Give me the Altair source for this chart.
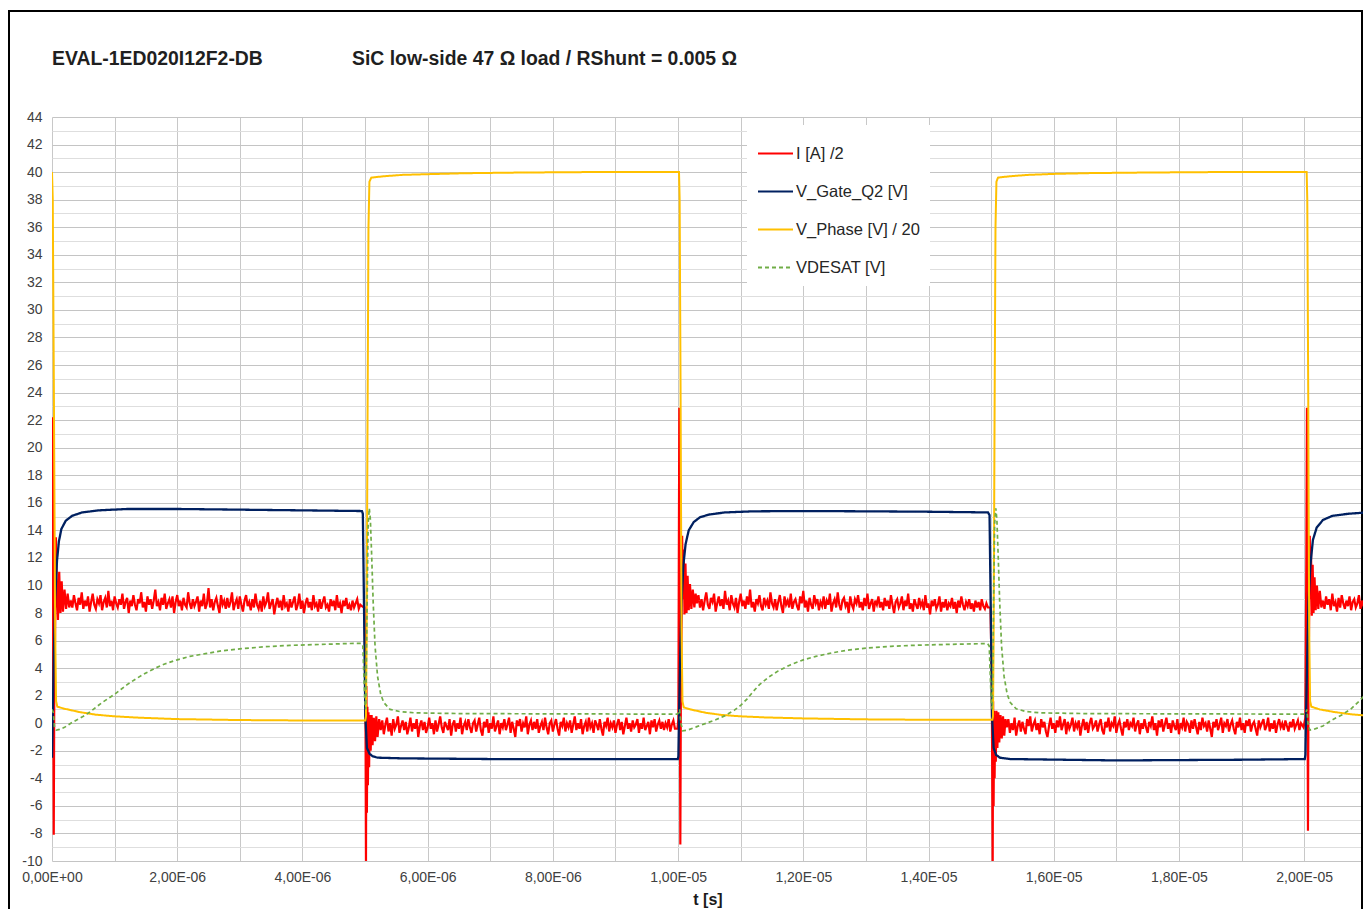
import json
import altair as alt
import pandas as pd

FONT = "Liberation Sans"

SERIES = ["I [A] /2", "V_Gate_Q2 [V]", "V_Phase [V] / 20", "VDESAT [V]"]
COLORS = ["#ff0000", "#002060", "#ffc000", "#70ad47"]
DASHES = [[1, 0], [1, 0], [1, 0], [4, 3]]
WIDTHS = [2.2, 2.3, 2, 1.7]

TITLE_LEFT = "EVAL-1ED020I12F2-DB"
TITLE_RIGHT = "SiC low-side 47 \u03a9 load / RShunt = 0.005 \u03a9"
X_TITLE = "t [s]"
X_TICK_LABELS = ["0,00E+00", "2,00E-06", "4,00E-06", "6,00E-06", "8,00E-06", "1,00E-05",
                 "1,20E-05", "1,40E-05", "1,60E-05", "1,80E-05", "2,00E-05"]

# ---- time in microseconds ----
gate_t = [0.000, 0.010, 0.030, 0.050, 0.080, 0.110, 0.150, 0.220, 0.320, 0.480, 0.750, 1.200,
          2.000, 3.000, 4.000, 4.950, 4.965, 4.985, 5.005, 5.030, 5.070, 5.120, 5.200, 5.600,
          7.000, 9.000, 9.995,
          10.005, 10.015, 10.035, 10.055, 10.085, 10.120, 10.170, 10.250, 10.350, 10.500,
          10.750, 11.200, 12.000, 13.000, 14.000, 14.950, 14.975, 14.995, 15.015, 15.040,
          15.080, 15.140, 15.300, 17.000, 19.000, 20.010,
          20.020, 20.030, 20.050, 20.070, 20.100, 20.140, 20.200, 20.300, 20.450, 20.700, 21.000]
gate_v = [-2.5, 0.0, 5.0, 9.0, 11.8, 13.2, 14.1, 14.7, 15.05, 15.3, 15.45, 15.55,
          15.55, 15.5, 15.45, 15.4, 15.2, 8.0, 0.5, -1.8, -2.2, -2.4, -2.5, -2.55,
          -2.6, -2.6, -2.6,
          -2.4, 0.5, 5.0, 8.8, 11.5, 13.0, 14.0, 14.6, 14.95, 15.15,
          15.3, 15.38, 15.4, 15.38, 15.35, 15.3, 15.1, 8.0, 0.5, -1.8,
          -2.3, -2.5, -2.6, -2.7, -2.65, -2.6,
          -2.3, 0.5, 5.0, 8.8, 11.5, 13.3, 14.2, 14.75, 15.05, 15.2, 15.3]

phase_t = [0.000, 0.012, 0.030, 0.050, 0.065, 0.085, 0.200, 0.450, 0.700, 1.000, 1.400, 2.000,
           3.000, 4.000, 5.005, 5.015, 5.025, 5.040, 5.055, 5.070, 5.100, 5.300, 5.600, 6.000,
           6.600, 7.500, 8.500, 10.015,
           10.025, 10.040, 10.055, 10.070, 10.090, 10.200, 10.450, 10.700, 11.000, 11.400,
           12.000, 13.000, 14.000, 15.020, 15.030, 15.040, 15.055, 15.070, 15.085, 15.110,
           15.300, 15.600, 16.000, 16.600, 17.500, 18.500, 20.040,
           20.050, 20.065, 20.080, 20.095, 20.115, 20.250, 20.500, 20.750, 21.000]
phase_v = [40.0, 38.0, 24.0, 7.0, 1.6, 1.2, 1.05, 0.8, 0.62, 0.5, 0.4, 0.3,
           0.23, 0.2, 0.2, 0.5, 6.0, 22.0, 36.0, 39.3, 39.6, 39.7, 39.8, 39.85,
           39.92, 39.97, 40.0, 40.0,
           38.0, 24.0, 7.0, 1.6, 1.15, 1.0, 0.75, 0.6, 0.5, 0.42,
           0.35, 0.28, 0.25, 0.25, 0.5, 6.0, 22.0, 36.0, 39.3, 39.6,
           39.7, 39.8, 39.87, 39.93, 39.97, 40.0, 40.0,
           38.0, 24.0, 7.0, 1.6, 1.2, 1.0, 0.8, 0.65, 0.55]

desat_t = [0.000, 0.020, 0.040, 0.070, 0.120, 0.200, 0.300, 0.400, 0.500, 0.600, 0.700, 0.800,
           0.900, 1.000, 1.100, 1.200, 1.350, 1.500, 1.650, 1.800, 2.000, 2.200, 2.450, 2.700,
           3.000, 3.400, 3.800, 4.300, 4.700, 4.945, 4.965, 4.985, 5.000, 5.012, 5.030, 5.050,
           5.068, 5.085, 5.105, 5.130, 5.160, 5.200, 5.250, 5.300, 5.400, 5.550, 5.800, 6.500,
           8.000, 9.990,
           10.010, 10.025, 10.045, 10.075, 10.150, 10.300, 10.450, 10.600, 10.750, 10.900,
           11.000, 11.100, 11.200, 11.300, 11.450, 11.600, 11.800, 12.000, 12.200, 12.450,
           12.700, 13.000, 13.400, 13.800, 14.300, 14.700, 14.945, 14.970, 14.990, 15.005,
           15.018, 15.036, 15.056, 15.075, 15.092, 15.112, 15.137, 15.167, 15.207, 15.257,
           15.307, 15.400, 15.550, 15.800, 16.500, 18.000, 20.010,
           20.030, 20.045, 20.060, 20.090, 20.150, 20.300, 20.450, 20.600, 20.750, 20.900, 21.000]
desat_v = [1.0, 0.8, -0.3, -0.5, -0.45, -0.3, 0.0, 0.25, 0.5, 0.8, 1.15, 1.5,
           1.8, 2.1, 2.45, 2.8, 3.25, 3.65, 4.0, 4.3, 4.6, 4.85, 5.05, 5.25,
           5.4, 5.55, 5.65, 5.72, 5.78, 5.8, 5.6, 3.0, 1.3, 1.0, 7.5, 14.5,
           15.6, 14.8, 12.3, 8.8, 5.6, 3.4, 2.1, 1.5, 1.0, 0.85, 0.75, 0.7,
           0.68, 0.66,
           0.8, 1.0, 0.0, -0.55, -0.5, -0.25, 0.0, 0.25, 0.55, 0.95,
           1.3, 1.75, 2.3, 2.8, 3.35, 3.8, 4.25, 4.6, 4.85, 5.1,
           5.3, 5.45, 5.58, 5.66, 5.72, 5.76, 5.78, 5.6, 3.0, 1.3,
           1.0, 7.5, 14.5, 15.6, 14.8, 12.3, 8.8, 5.6, 3.4, 2.1,
           1.5, 1.05, 0.85, 0.75, 0.7, 0.68, 0.66,
           0.8, 1.0, 0.0, -0.5, -0.45, -0.2, 0.25, 0.6, 1.05, 1.7, 2.2]

# current: switching transients (t, v) and sampled plateaus (start time, one sample every 0.025 us)
SAMPLE_STEP = 0.025
cur_on0_t = [0.000, 0.006, 0.012, 0.020, 0.028, 0.036, 0.048, 0.062, 0.078, 0.095, 0.115, 0.135,
             0.155, 0.175, 0.200, 0.225, 0.250, 0.275]
cur_on0_v = [-0.3, 10.0, 22.2, 4.0, -8.1, 2.0, 6.0, 13.5, 9.8, 7.5, 11.0, 8.0,
             10.3, 8.1, 9.7, 8.3, 9.4, 8.4]
cur_on1_start = 0.30
cur_on1_v = [
    8.9, 8.4, 9.3, 8.7, 8.2, 9.1, 8.6, 9.5, 8.3, 8.9, 8.5, 9.2, 8.1, 8.8, 9.4, 8.6, 8.3, 9.0, 8.7, 9.3,
    8.2, 8.8, 9.1, 8.4, 9.6, 8.5, 8.9, 8.2, 9.2, 8.7, 8.4, 9.0, 8.6, 9.4, 8.3, 8.8, 9.1, 8.0, 8.9, 8.5,
    9.3, 8.6, 8.2, 9.0, 8.7, 9.5, 8.4, 8.8, 8.1, 9.2, 8.6, 9.0, 8.3, 8.9, 9.7, 8.5, 8.8, 8.2, 9.1, 8.6,
    9.4, 8.3, 8.7, 9.0, 8.4, 9.2, 8.0, 8.8, 9.3, 8.5, 8.9, 8.2, 9.1, 8.6, 8.4, 9.5, 8.7, 8.3, 9.0, 8.5,
    8.8, 9.2, 8.1, 8.9, 8.5, 9.4, 8.3, 8.7, 9.8, 8.4, 9.0, 8.2, 8.8, 9.1, 8.5, 8.0, 9.3, 8.6, 8.9, 8.3,
    9.1, 8.4, 8.8, 9.5, 8.2, 8.7, 9.0, 8.3, 9.2, 8.6, 8.1, 8.9, 9.3, 8.5, 8.8, 8.2, 9.0, 8.4, 9.4, 8.6,
    8.3, 8.9, 8.1, 9.2, 8.5, 8.8, 9.5, 8.3, 8.7, 9.0, 7.9, 8.6, 9.1, 8.4, 8.9, 8.2, 9.3, 8.5, 8.7, 8.1,
    9.0, 8.4, 8.8, 9.2, 8.2, 8.6, 9.4, 8.3, 8.9, 8.0, 8.7, 9.1, 8.4, 8.8, 8.2, 9.3, 8.5, 8.7, 8.1, 9.0,
    8.3, 8.8, 9.2, 8.4, 8.6, 8.1, 9.0, 8.5, 8.9, 8.2, 9.3, 8.4, 8.7, 8.0, 8.9, 8.5, 9.1, 8.3, 8.6, 8.2,
    8.9, 8.4, 8.7, 9.0, 8.3, 8.6, 8.5]
cur_off5_t = [4.990, 5.005, 5.015, 5.022, 5.030, 5.038, 5.046, 5.055, 5.065, 5.075, 5.090, 5.105,
              5.120, 5.140, 5.160, 5.180, 5.200, 5.225]
cur_off5_v = [8.4, 4.0, -10.5, 2.7, -6.5, 1.2, -4.5, 0.8, -3.2, 0.6, -2.0, 0.6,
              -1.6, 0.4, -1.3, 0.5, -1.0, 0.3]
cur_off1_start = 5.25
cur_off1_v = [
    -0.5, 0.2, -0.8, -0.1, 0.4, -0.6, 0.0, -0.9, 0.3, -0.4, -0.1, 0.5, -0.7, -0.2, 0.2, -0.5, 0.1, -0.8, -0.3, 0.4,
    -0.6, 0.0, -0.4, 0.3, -1.0, -0.2, 0.2, -0.5, 0.1, -0.7, -0.3, 0.4, -0.4, 0.0, -0.8, 0.2, -0.6, -0.1, 0.5, -0.3,
    -0.7, 0.1, -0.2, -0.5, 0.3, -0.9, -0.1, 0.2, -0.6, 0.0, -0.4, 0.4, -0.8, -0.2, 0.1, -0.5, 0.3, -0.3, -0.7, 0.0,
    0.2, -0.6, -0.1, 0.4, -0.5, -0.9, 0.1, -0.3, 0.3, -0.7, 0.0, -0.4, 0.5, -0.6, -0.2, 0.2, -0.8, 0.0, -0.3, 0.3,
    -0.5, -0.1, 0.4, -0.7, 0.1, -0.4, -1.0, 0.2, -0.2, 0.3, -0.6, 0.0, -0.3, 0.5, -0.8, -0.1, 0.2, -0.5, 0.1, -0.4,
    0.3, -0.7, -0.2, 0.1, -0.5, 0.4, -0.3, -0.8, 0.0, 0.2, -0.6, -0.1, 0.3, -0.4, -0.9, 0.1, -0.2, 0.4, -0.6, 0.0,
    -0.3, 0.2, -0.7, -0.1, 0.5, -0.5, 0.0, -0.4, 0.3, -0.8, -0.2, 0.1, -0.6, 0.4, -0.3, 0.0, -0.7, 0.2, -0.1, -0.5,
    0.3, -0.4, -0.9, 0.1, -0.2, 0.4, -0.6, 0.0, -0.3, 0.2, -0.7, -0.1, 0.3, -0.5, 0.1, -0.8, -0.2, 0.4, -0.4, 0.0,
    -0.6, 0.2, -0.3, -0.1, 0.3, -0.7, 0.0, -0.4, 0.4, -0.5, -0.2, 0.1, -0.8, 0.2, -0.3, 0.3, -0.6, -0.1, 0.2, -0.4,
    0.1, -0.5, 0.0, -0.3, 0.3, -0.6, -0.1, 0.2, -0.4]
cur_on10_t = [9.990, 10.005, 10.012, 10.020, 10.028, 10.036, 10.045, 10.055, 10.065, 10.078, 10.090,
              10.102, 10.118, 10.135, 10.152, 10.170, 10.190, 10.212, 10.235, 10.260, 10.280]
cur_on10_v = [-0.4, 0.3, 12.0, 22.9, 4.0, -8.8, 2.5, 7.0, 13.6, 9.0, 12.6,
              7.9, 11.6, 8.0, 10.7, 8.2, 10.1, 8.3, 9.7, 8.4, 9.4]
cur_on2_start = 10.30
cur_on2_v = [
    8.7, 9.3, 8.4, 9.0, 8.2, 8.9, 9.5, 8.6, 8.3, 9.1, 8.8, 9.4, 8.1, 8.7, 9.2, 8.5, 9.0, 8.3, 9.6, 8.6,
    8.9, 8.2, 9.3, 8.7, 8.4, 9.1, 8.0, 8.8, 9.4, 8.5, 8.9, 8.3, 9.2, 8.6, 9.7, 8.4, 8.8, 8.1, 9.0, 8.7,
    9.3, 8.5, 8.2, 9.1, 8.6, 8.9, 8.3, 9.5, 8.7, 8.4, 9.0, 8.2, 8.8, 9.3, 8.5, 8.0, 9.2, 8.6, 8.9, 8.4,
    9.4, 8.3, 8.8, 9.0, 8.5, 8.2, 9.2, 8.7, 9.6, 8.4, 8.9, 8.1, 9.1, 8.6, 8.3, 9.3, 8.7, 9.0, 8.2, 8.8,
    8.5, 9.2, 8.3, 8.9, 8.6, 9.4, 8.1, 8.7, 9.0, 8.4, 9.5, 8.6, 8.2, 8.9, 9.1, 8.5, 8.8, 8.0, 9.2, 8.6,
    8.3, 9.0, 8.7, 9.3, 8.4, 8.8, 8.2, 9.1, 8.5, 9.4, 8.3, 8.7, 9.0, 8.1, 8.9, 8.6, 9.2, 8.4, 8.8, 8.2,
    9.1, 8.5, 8.9, 8.3, 9.3, 8.6, 8.0, 8.8, 9.0, 8.4, 8.7, 9.2, 8.2, 8.9, 8.5, 9.4, 8.3, 8.7, 8.1, 9.0,
    8.6, 8.3, 9.1, 8.5, 8.8, 8.2, 9.3, 8.4, 8.7, 7.9, 8.9, 8.5, 9.0, 8.3, 8.6, 9.2, 8.1, 8.8, 8.4, 9.0,
    8.2, 8.7, 8.5, 9.1, 8.3, 8.8, 8.0, 8.9, 8.4, 9.2, 8.6, 8.2, 8.8, 8.5, 9.0, 8.3, 8.7, 8.1, 8.9, 8.4,
    8.8, 8.2, 9.0, 8.5, 8.3, 8.7, 8.4]
cur_off15_t = [14.990, 15.010, 15.025, 15.032, 15.040, 15.048, 15.056, 15.065, 15.075, 15.085, 15.100,
               15.115, 15.130, 15.150, 15.170, 15.190, 15.210, 15.230]
cur_off15_v = [8.4, 3.5, -10.5, 1.6, -6.0, 0.9, -4.0, 0.6, -2.8, 0.9, -1.8,
               0.8, -1.4, 0.6, -1.1, 0.5, -0.9, 0.3]
cur_off2_start = 15.25
cur_off2_v = [
    -0.3, 0.3, -0.7, 0.0, -0.5, 0.4, -0.9, -0.2, 0.2, -0.6, 0.1, -0.4, -0.8, 0.3, -0.2, 0.5, -0.6, -0.1, 0.2, -0.5,
    0.0, -0.8, 0.3, -0.3, 0.1, -0.6, -1.0, -0.2, 0.4, -0.4, 0.0, -0.7, 0.2, -0.3, 0.5, -0.5, -0.1, 0.3, -0.8, 0.1,
    -0.4, -0.1, 0.4, -0.6, 0.0, -0.3, 0.2, -0.9, -0.2, 0.3, -0.5, 0.1, -0.7, 0.0, 0.4, -0.4, -0.2, 0.2, -0.6, -0.1,
    0.3, -0.5, -0.8, 0.1, -0.3, 0.4, -0.6, 0.0, -0.2, 0.5, -0.7, -0.1, 0.2, -0.4, -0.9, 0.1, -0.3, 0.3, -0.5, 0.0,
    -0.2, 0.4, -0.6, -0.1, 0.2, -0.8, 0.0, -0.4, 0.3, -0.3, -0.7, 0.1, -0.2, 0.5, -0.5, 0.0, -0.9, 0.2, -0.3, 0.3,
    -0.6, -0.1, 0.4, -0.4, 0.0, -0.7, 0.2, -0.2, -0.5, 0.3, -0.8, 0.0, -0.3, 0.4, -0.6, 0.1, -0.1, -0.7, 0.2, -0.4,
    0.3, -0.3, -0.8, 0.1, -0.5, 0.4, -0.2, 0.0, -0.6, 0.2, -0.4, -1.0, 0.1, -0.3, 0.3, -0.5, -0.1, 0.4, -0.7, 0.0,
    -0.2, 0.3, -0.6, -0.1, 0.2, -0.4, -0.8, 0.1, -0.3, 0.4, -0.5, 0.0, -0.7, 0.2, -0.2, 0.3, -0.6, -0.1, 0.1, -0.4,
    -0.9, 0.2, -0.3, 0.0, 0.3, -0.5, -0.2, 0.4, -0.6, 0.0, -0.4, 0.2, -0.7, -0.1, 0.3, -0.3, 0.0, -0.5, 0.2, -0.2,
    -0.6, 0.1, -0.3, 0.3, -0.4, -0.1, 0.2, -0.5, 0.0]
cur_on20_t = [19.990, 20.020, 20.035, 20.045, 20.053, 20.061, 20.070, 20.080, 20.090, 20.100, 20.110,
              20.122, 20.136, 20.150, 20.166, 20.184, 20.204, 20.226, 20.250, 20.275]
cur_on20_v = [-0.3, 0.4, 12.0, 22.9, 4.0, -7.8, 3.0, 8.0, 13.6, 9.0, 12.5,
              7.8, 11.5, 8.0, 10.6, 8.2, 10.0, 8.3, 9.6, 8.4]
cur_on3_start = 20.30
cur_on3_v = [8.9, 8.3, 9.2, 8.6, 9.0, 8.2, 9.4, 8.5, 8.8, 8.1, 9.1, 8.4, 9.3, 8.7, 8.3, 8.9, 8.5, 9.2,
             8.2, 8.8, 9.0, 8.4, 8.7, 9.3, 8.3, 8.9, 8.5, 8.8, 8.6]


def sampled(start, values):
    return [round(start + i * SAMPLE_STEP, 4) for i in range(len(values))]


cur_t = (cur_on0_t + sampled(cur_on1_start, cur_on1_v) + cur_off5_t + sampled(cur_off1_start, cur_off1_v)
         + cur_on10_t + sampled(cur_on2_start, cur_on2_v) + cur_off15_t + sampled(cur_off2_start, cur_off2_v)
         + cur_on20_t + sampled(cur_on3_start, cur_on3_v))
cur_v = (cur_on0_v + cur_on1_v + cur_off5_v + cur_off1_v + cur_on10_v + cur_on2_v + cur_off15_v
         + cur_off2_v + cur_on20_v + cur_on3_v)

frames = []
for name, tt, vv in [(SERIES[0], cur_t, cur_v), (SERIES[1], gate_t, gate_v),
                     (SERIES[2], phase_t, phase_v), (SERIES[3], desat_t, desat_v)]:
    frames.append(pd.DataFrame({"t": tt, "v": vv, "series": name}))
df = pd.concat(frames, ignore_index=True).sort_values(["series", "t"], kind="stable")

x_label_expr = ("datum.value % 2 == 0 ? " + json.dumps(X_TICK_LABELS) + "[datum.value / 2] : ''")

x_enc = alt.X("t:Q", scale=alt.Scale(domain=[0, 20.94], nice=False, zero=False),
              axis=alt.Axis(values=list(range(0, 21)), labelExpr=x_label_expr, title=X_TITLE,
                            titleFont=FONT, titleFontSize=16, titleFontWeight="bold", titleColor="#1a1a1a",
                            titlePadding=7, labelFont=FONT, labelFontSize=14, labelColor="#404040",
                            labelPadding=9, ticks=False, domain=False, gridColor="#c8c8c8",
                            gridWidth=1, labelFlush=False, labelOverlap=False))
y_enc = alt.Y("v:Q", scale=alt.Scale(domain=[-10, 44], nice=False, zero=False),
              axis=alt.Axis(values=list(range(-10, 45)),
                            labelExpr="datum.value % 2 == 0 ? '' + datum.value : ''",
                            title=None, labelFont=FONT, labelFontSize=14, labelColor="#404040",
                            labelPadding=10, ticks=False, domain=False,
                            gridColor={"condition": {"test": "datum.value % 2 == 0", "value": "#c4c4c4"},
                                       "value": "#dedede"},
                            gridWidth=1, labelFlush=False, labelOverlap=False))

legend = alt.Legend(orient="none", legendX=695, legendY=8, title=None, fillColor="white", padding=10,
                    symbolType="stroke", symbolSize=1225, symbolStrokeWidth=2, labelFont=FONT,
                    labelFontSize=16.5, labelColor="#262626", labelOffset=2, rowPadding=11, labelLimit=400)
color_enc = alt.Color("series:N", scale=alt.Scale(domain=SERIES, range=COLORS), legend=legend)
dash_enc = alt.StrokeDash("series:N", scale=alt.Scale(domain=SERIES, range=DASHES), legend=legend)

layers = []
for name, w in zip(SERIES, WIDTHS):
    layers.append(
        alt.Chart(df).transform_filter(alt.datum.series == name)
        .mark_line(strokeWidth=w, clip=True, interpolate="linear")
        .encode(x=x_enc, y=y_enc, color=color_enc, strokeDash=dash_enc)
    )

deco = pd.DataFrame({"a": [0]})
frame = alt.Chart(deco).mark_rect(fill="transparent", stroke="#000000", strokeWidth=2, clip=False).encode(
    x=alt.value(-43), x2=alt.value(1310), y=alt.value(-106), y2=alt.value(800))
title_left = alt.Chart(deco).mark_text(text=TITLE_LEFT, font=FONT, fontSize=19.4, fontWeight="bold",
                                       color="#1f1f1f", align="left", baseline="middle").encode(
    x=alt.value(0), y=alt.value(-58))
title_right = alt.Chart(deco).mark_text(text=TITLE_RIGHT, font=FONT, fontSize=19.4, fontWeight="bold",
                                        color="#1f1f1f", align="left", baseline="middle").encode(
    x=alt.value(300), y=alt.value(-58))

chart = alt.layer(frame, *layers, title_left, title_right).properties(
    width=1311, height=744,
    autosize=alt.AutoSizeParams(type="none"),
    padding={"left": 44, "top": 109, "right": 0, "bottom": 48},
    background="white",
).configure_view(stroke=None)

chart.save("out.html", embed_options={"renderer": "svg", "actions": False})
